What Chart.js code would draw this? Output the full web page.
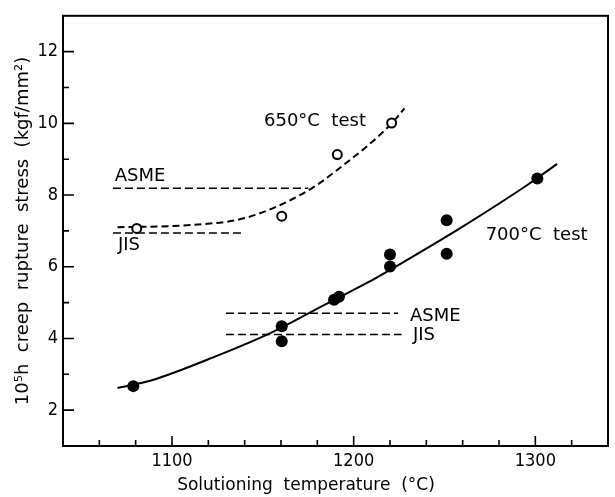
<!DOCTYPE html>
<html><head><meta charset="utf-8">
<script src="https://cdn.jsdelivr.net/npm/chart.js@4.4.1/dist/chart.umd.min.js"></script>
<style>html,body{margin:0;padding:0;background:#fff}#wrap{width:615px;height:497px;position:relative}</style>
</head><body><div id="wrap"><canvas id="c"></canvas></div>
<script>
// ---- tick values / labels ----
const xMajorTicks = [1100, 1200, 1300];
const xTickLabels = ['1100', '1200', '1300'];
const xMinorTicks = [1060, 1080, 1120, 1140, 1160, 1180, 1220, 1240, 1260, 1280, 1320];
const yMajorTicks = [2, 4, 6, 8, 10, 12];
const yTickLabels = ['2', '4', '6', '8', '10', '12'];
const yMinorTicks = [3, 5, 7, 9, 11];

// ---- 650°C test (open circles) ----
const temp650 = [1080.6, 1160.4, 1191.0, 1220.9];
const stress650 = [7.07, 7.41, 9.13, 10.01];
// ---- 700°C test (filled circles) ----
const temp700 = [1078.7, 1160.4, 1160.4, 1189.2, 1191.9, 1220, 1220, 1251.2, 1251.2, 1301.1];
const stress700 = [2.67, 4.34, 3.92, 5.08, 5.16, 6.34, 6.01, 7.30, 6.36, 8.46];
// ---- fitted curves ----
const curve650T = [1070, 1112, 1141, 1174, 1192, 1221, 1228];
const curve650S = [7.10, 7.17, 7.37, 8.10, 8.74, 10.0, 10.42];
const curve700T = [1070, 1088, 1125, 1155, 1180, 1207, 1226, 1260, 1297, 1312];
const curve700S = [2.62, 2.82, 3.52, 4.17, 4.83, 5.54, 6.09, 7.12, 8.33, 8.87];
// ---- allowable stress levels ----
const asme650T = [1067.5, 1175];  const asme650S = 8.19;
const jis650T  = [1067.5, 1139];  const jis650S  = 6.94;
const asme700T = [1129.7, 1224.4]; const asme700S = 4.70;
const jis700T  = [1129.7, 1226.4]; const jis700S  = 4.11;

const zip = (xs, ys) => xs.map((x, i) => ({x, y: ys[i]}));
const hline = (xs, y) => xs.map(x => ({x, y}));

const narrowFont = "'Liberation Sans Narrow', 'DejaVu Sans Condensed', 'Liberation Sans', sans-serif";
const textFont = "'DejaVu Sans', sans-serif";

const annotations = [
  {text: 'ASME', x: 1082.4, y: 8.51},
  {text: 'JIS', x: 1076.3, y: 6.59},
  {text: '650°C  test', x: 1178.7, y: 10.06},
  {text: '700°C  test', x: 1300.7, y: 6.88},
  {text: 'ASME', x: 1244.9, y: 4.63},
  {text: 'JIS', x: 1238.7, y: 4.08}
];

const decor = {
  id: 'decor',
  afterDraw(chart) {
    const ctx = chart.ctx, a = chart.chartArea;
    const xs = chart.scales.x, ys = chart.scales.y;
    ctx.save();
    ctx.strokeStyle = '#000';
    ctx.fillStyle = '#000';
    // frame
    ctx.lineWidth = 2;
    ctx.strokeRect(a.left, a.top, a.right - a.left, a.bottom - a.top);
    // inward ticks
    ctx.lineWidth = 1.6;
    ctx.beginPath();
    xMajorTicks.forEach(v => { const p = xs.getPixelForValue(v); ctx.moveTo(p, a.bottom); ctx.lineTo(p, a.bottom - 10); });
    xMinorTicks.forEach(v => { const p = xs.getPixelForValue(v); ctx.moveTo(p, a.bottom); ctx.lineTo(p, a.bottom - 6); });
    yMajorTicks.forEach(v => { const p = ys.getPixelForValue(v); ctx.moveTo(a.left, p); ctx.lineTo(a.left + 11, p); });
    yMinorTicks.forEach(v => { const p = ys.getPixelForValue(v); ctx.moveTo(a.left, p); ctx.lineTo(a.left + 6, p); });
    ctx.stroke();
    // annotations
    ctx.font = '18px ' + textFont;
    ctx.textAlign = 'center';
    ctx.textBaseline = 'middle';
    annotations.forEach(t => ctx.fillText(t.text, xs.getPixelForValue(t.x), ys.getPixelForValue(t.y)));
    // axis titles
    ctx.font = '17px ' + textFont;
    ctx.fillText('Solutioning  temperature  (°C)', 306, 486);
    ctx.save();
    ctx.translate(23, 231);
    ctx.rotate(-Math.PI / 2);
    ctx.font = '18px ' + textFont;
    ctx.fillText('10⁵h  creep  rupture  stress  (kgf/mm²)', 0, 0);
    ctx.restore();
    ctx.restore();
  }
};

new Chart(document.getElementById('c'), {
  type: 'scatter',
  data: {
    datasets: [
      {data: zip(temp650, stress650), pointRadius: 4.5, pointBorderWidth: 2, pointBackgroundColor: '#fff', pointBorderColor: '#000'},
      {data: zip(temp700, stress700), pointRadius: 6, pointBorderWidth: 0, pointBackgroundColor: '#000', pointBorderColor: '#000'},
      {data: zip(curve650T, curve650S), showLine: true, pointRadius: 0, borderColor: '#000', borderWidth: 2, borderDash: [7, 4], tension: 0.4, cubicInterpolationMode: 'monotone'},
      {data: zip(curve700T, curve700S), showLine: true, pointRadius: 0, borderColor: '#000', borderWidth: 2, tension: 0.4, cubicInterpolationMode: 'monotone'},
      {data: hline(asme650T, asme650S), showLine: true, pointRadius: 0, borderColor: '#000', borderWidth: 1.5, borderDash: [8, 4]},
      {data: hline(jis650T, jis650S), showLine: true, pointRadius: 0, borderColor: '#000', borderWidth: 1.5, borderDash: [8, 4]},
      {data: hline(asme700T, asme700S), showLine: true, pointRadius: 0, borderColor: '#000', borderWidth: 1.5, borderDash: [8, 4]},
      {data: hline(jis700T, jis700S), showLine: true, pointRadius: 0, borderColor: '#000', borderWidth: 1.5, borderDash: [8, 4]}
    ]
  },
  options: {
    responsive: true,
    maintainAspectRatio: false,
    animation: false,
    layout: {padding: {top: 7, right: 7, left: 0, bottom: 0}},
    plugins: {legend: {display: false}, tooltip: {enabled: false}},
    scales: {
      x: {
        type: 'linear', min: 1040, max: 1340,
        grid: {display: false, drawTicks: false, tickLength: 0},
        border: {display: false},
        afterBuildTicks: s => { s.ticks = xMajorTicks.map(v => ({value: v})); },
        afterFit: s => { s.height = 51; },
        ticks: {
          padding: 5, maxRotation: 0, autoSkip: false, color: '#000',
          font: {family: narrowFont, size: 18},
          callback: v => { const i = xMajorTicks.indexOf(v); return i >= 0 ? xTickLabels[i] : ''; }
        }
      },
      y: {
        type: 'linear', min: 1, max: 13,
        grid: {display: false, drawTicks: false, tickLength: 0},
        border: {display: false},
        afterBuildTicks: s => { s.ticks = yMajorTicks.map(v => ({value: v})); },
        afterFit: s => { s.width = 63; },
        ticks: {
          padding: 5, autoSkip: false, color: '#000',
          font: {family: narrowFont, size: 18},
          callback: v => { const i = yMajorTicks.indexOf(v); return i >= 0 ? yTickLabels[i] : ''; }
        }
      }
    }
  },
  plugins: [decor]
});
</script>
</body></html>
